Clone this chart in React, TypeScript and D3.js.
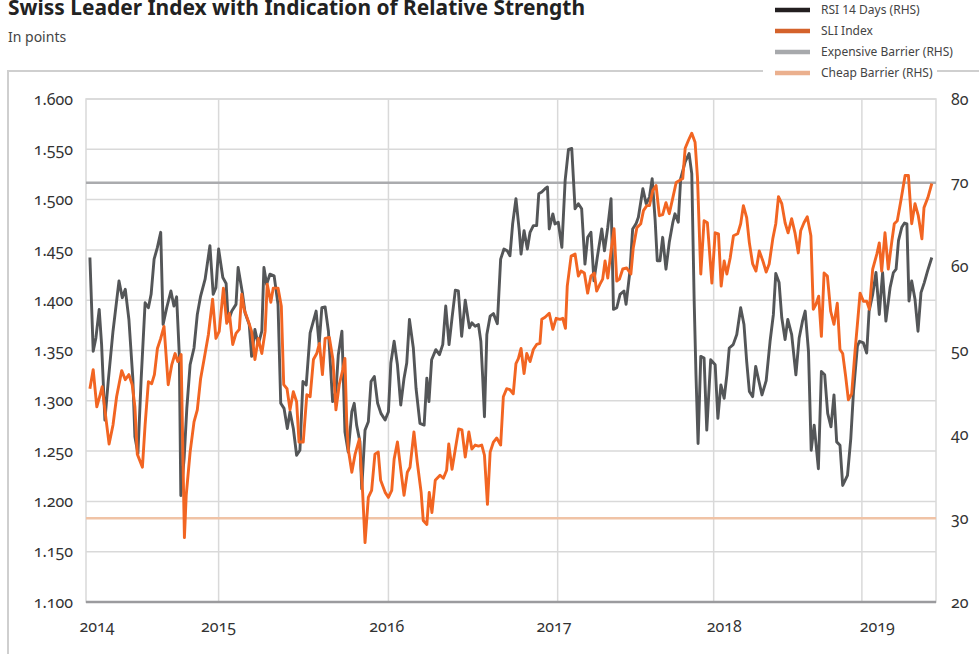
import React, { useEffect, useRef } from "react";
import * as d3 from "d3";

// chart data: x = week index since first observation, y = value
const sliIndex: [number, number][] = [
  [1.3, 1312], [2.4, 1331], [3.6, 1294], [4.7, 1306], [5.4, 1314], [6.7, 1281], [7.7, 1257], [9.0, 1276],
  [10.2, 1304], [11.9, 1330], [13.1, 1321], [14.3, 1326], [15.4, 1316], [16.3, 1294], [17.1, 1247], [18.8, 1234],
  [19.7, 1276], [20.8, 1319], [21.9, 1317], [22.8, 1326], [23.8, 1352], [24.9, 1362], [26.0, 1374], [27.4, 1316],
  [28.6, 1336], [29.7, 1347], [30.6, 1339], [31.7, 1346], [32.8, 1164], [33.4, 1206], [34.7, 1249], [36.0, 1279],
  [37.1, 1291], [38.2, 1322], [39.4, 1342], [40.8, 1366], [42.2, 1401], [43.3, 1362], [44.4, 1369], [45.8, 1412],
  [46.9, 1377], [47.8, 1387], [48.9, 1356], [50.0, 1367], [51.1, 1371], [51.9, 1406], [52.7, 1391], [54.1, 1379],
  [55.2, 1369], [56.3, 1341], [57.4, 1362], [58.6, 1347], [59.7, 1369], [60.4, 1416], [61.6, 1398], [62.4, 1412],
  [64.0, 1412], [65.1, 1394], [65.9, 1316], [67.0, 1312], [68.0, 1291], [69.1, 1309], [70.2, 1299], [71.0, 1259],
  [72.4, 1259], [73.6, 1306], [74.7, 1304], [75.8, 1341], [76.9, 1347], [77.8, 1357], [78.8, 1326], [79.7, 1362],
  [81.1, 1363], [82.3, 1341], [83.3, 1291], [84.4, 1316], [85.6, 1331], [86.3, 1342], [86.9, 1279], [87.4, 1252],
  [88.6, 1229], [89.7, 1247], [91.1, 1262], [92.2, 1209], [93.0, 1159], [94.1, 1204], [95.2, 1211], [96.3, 1247],
  [97.4, 1249], [98.2, 1221], [99.7, 1209], [100.8, 1204], [101.9, 1211], [102.7, 1242], [103.8, 1259], [104.9, 1232],
  [106.0, 1206], [107.1, 1229], [108.0, 1234], [109.3, 1269], [110.4, 1239], [111.7, 1209], [112.4, 1181], [113.6, 1177],
  [114.4, 1209], [115.3, 1189], [116.4, 1221], [118.0, 1226], [119.1, 1223], [120.2, 1231], [120.9, 1257], [122.0, 1232],
  [123.1, 1252], [124.2, 1272], [125.3, 1271], [126.4, 1244], [127.6, 1269], [128.6, 1252], [129.7, 1256], [130.8, 1255],
  [131.9, 1256], [132.8, 1246], [133.8, 1197], [134.7, 1249], [135.8, 1259], [136.9, 1263], [138.2, 1256], [139.1, 1304],
  [140.2, 1312], [141.3, 1311], [142.4, 1307], [143.3, 1337], [144.1, 1342], [145.0, 1352], [146.0, 1327], [146.9, 1347],
  [148.0, 1339], [149.1, 1351], [150.2, 1356], [151.3, 1357], [151.9, 1381], [153.0, 1383], [154.4, 1387], [155.6, 1371],
  [156.7, 1382], [158.0, 1381], [158.9, 1382], [159.8, 1372], [160.4, 1414], [161.7, 1444], [163.0, 1446], [164.1, 1424],
  [165.0, 1429], [166.1, 1427], [167.2, 1407], [168.3, 1424], [169.4, 1427], [170.2, 1409], [171.3, 1416], [172.2, 1421],
  [173.0, 1439], [173.9, 1422], [175.0, 1449], [176.0, 1471], [176.9, 1419], [177.8, 1421], [178.9, 1431], [180.2, 1432],
  [181.6, 1426], [182.4, 1452], [183.6, 1472], [184.9, 1476], [185.8, 1489], [186.9, 1494], [187.8, 1494], [188.9, 1509],
  [190.0, 1514], [191.1, 1484], [192.2, 1485], [193.3, 1497], [194.4, 1486], [195.6, 1502], [196.7, 1517], [197.8, 1519],
  [198.9, 1521], [199.7, 1551], [200.8, 1559], [201.9, 1566], [203.0, 1557], [203.8, 1522], [204.9, 1426], [206.0, 1479],
  [207.1, 1477], [208.6, 1417], [209.7, 1467], [210.8, 1466], [211.7, 1414], [212.7, 1439], [213.6, 1426], [214.7, 1442],
  [215.8, 1464], [217.2, 1466], [218.2, 1476], [219.1, 1494], [220.2, 1482], [221.1, 1457], [222.2, 1436], [223.3, 1429],
  [224.4, 1449], [225.6, 1439], [226.7, 1428], [227.7, 1436], [228.9, 1461], [229.9, 1476], [230.8, 1503], [231.9, 1496],
  [233.0, 1477], [234.0, 1467], [235.2, 1481], [236.3, 1467], [237.4, 1447], [238.2, 1469], [239.3, 1477], [240.4, 1483],
  [241.6, 1464], [242.4, 1391], [243.3, 1396], [244.2, 1404], [245.1, 1364], [246.0, 1427], [247.1, 1424], [248.2, 1389],
  [249.3, 1376], [250.4, 1397], [251.3, 1351], [252.2, 1347], [253.2, 1324], [254.1, 1301], [255.2, 1307], [256.3, 1349],
  [257.1, 1376], [258.0, 1407], [259.1, 1399], [260.2, 1399], [261.1, 1391], [262.2, 1431], [263.6, 1446], [264.4, 1457],
  [265.2, 1429], [266.3, 1467], [267.4, 1431], [268.6, 1459], [269.4, 1476], [270.4, 1479], [271.6, 1499], [273.0, 1524],
  [274.1, 1524], [275.2, 1476], [276.3, 1496], [277.4, 1484], [278.6, 1461], [279.3, 1492], [280.6, 1502], [281.9, 1516],
];

const rsi14: [number, number][] = [
  [1.3, 61.1], [2.4, 49.9], [3.3, 51.5], [4.4, 54.9], [5.2, 50.7], [6.3, 41.7], [7.4, 46.3], [9.0, 52.3],
  [11.0, 58.3], [12.1, 56.3], [13.1, 57.3], [14.3, 53.7], [15.6, 46.7], [16.3, 39.7], [17.3, 37.7], [18.4, 46.7],
  [19.7, 55.7], [20.8, 55.1], [21.7, 56.7], [22.7, 60.9], [23.8, 62.3], [24.9, 64.1], [25.7, 53.1], [26.9, 55.1],
  [28.3, 57.1], [29.3, 55.3], [30.2, 56.4], [31.1, 49.5], [31.6, 32.7], [32.7, 37.1], [33.6, 43.1], [34.7, 48.3],
  [36.0, 50.3], [37.1, 54.3], [38.2, 56.5], [39.7, 58.5], [41.3, 62.5], [42.4, 56.7], [43.3, 57.5], [44.2, 62.1],
  [45.6, 58.7], [46.7, 58.0], [47.4, 53.5], [48.6, 54.7], [50.0, 55.5], [50.7, 59.9], [52.2, 56.7], [53.0, 54.5],
  [54.4, 53.1], [55.2, 49.3], [56.3, 52.5], [57.4, 50.7], [58.6, 52.3], [59.3, 59.9], [60.2, 57.9], [61.3, 59.1],
  [62.7, 58.9], [64.0, 55.5], [64.9, 43.7], [66.0, 43.1], [67.1, 40.7], [68.0, 42.7], [69.1, 40.7], [70.2, 37.5],
  [71.3, 38.1], [72.3, 46.3], [73.4, 45.9], [74.7, 52.1], [76.7, 54.7], [77.7, 50.7], [78.6, 55.1], [79.7, 55.2],
  [80.8, 52.3], [82.2, 43.9], [83.3, 45.1], [84.1, 49.5], [85.3, 52.3], [86.3, 40.3], [87.4, 37.9], [88.6, 42.7],
  [89.4, 43.7], [90.2, 41.1], [91.3, 39.1], [91.9, 33.5], [93.0, 40.5], [94.1, 41.5], [95.0, 46.3], [96.1, 46.9],
  [97.2, 43.7], [98.3, 42.5], [99.7, 41.7], [100.8, 42.7], [101.6, 48.5], [102.7, 51.1], [103.8, 48.3], [104.9, 43.5],
  [106.0, 46.7], [106.9, 48.5], [107.8, 53.7], [109.1, 50.3], [110.0, 45.5], [111.3, 41.3], [112.7, 41.1], [113.6, 46.7],
  [114.3, 43.9], [115.2, 48.9], [116.6, 50.1], [117.8, 49.5], [118.9, 50.7], [119.9, 55.3], [121.0, 50.7], [122.0, 53.9],
  [123.1, 57.2], [124.1, 57.1], [125.2, 51.7], [126.4, 56.0], [127.8, 52.7], [128.6, 53.3], [129.7, 52.9], [130.8, 53.1],
  [131.6, 51.1], [132.2, 46.9], [132.8, 42.1], [133.6, 51.9], [134.7, 54.1], [135.8, 54.4], [137.1, 53.2], [138.2, 60.9],
  [139.3, 62.1], [140.4, 61.9], [141.3, 61.3], [142.2, 65.1], [143.3, 68.1], [144.4, 64.3], [145.0, 61.5], [146.0, 64.3],
  [147.1, 62.1], [148.0, 64.1], [149.1, 64.9], [150.2, 64.9], [150.9, 68.7], [151.9, 68.9], [153.0, 69.3], [153.8, 69.5],
  [154.4, 64.5], [155.6, 66.3], [156.3, 65.1], [157.4, 65.3], [158.6, 62.3], [159.7, 70.3], [160.8, 74.0], [161.9, 74.1],
  [163.0, 66.9], [164.1, 67.5], [165.2, 66.9], [166.3, 60.3], [167.2, 63.5], [168.3, 64.1], [169.3, 58.3], [170.4, 61.1],
  [171.9, 64.5], [172.8, 61.9], [173.9, 64.7], [175.0, 68.1], [175.8, 54.9], [176.9, 55.1], [178.0, 56.7], [179.3, 57.1],
  [180.0, 55.5], [181.3, 59.5], [182.2, 64.5], [183.3, 65.1], [184.1, 65.9], [185.6, 69.3], [186.7, 67.5], [187.8, 68.3],
  [188.7, 70.5], [189.7, 65.5], [190.4, 60.7], [191.3, 60.7], [192.2, 63.5], [193.3, 59.7], [194.4, 62.9], [195.6, 65.3],
  [196.3, 66.3], [197.4, 65.3], [198.2, 70.5], [199.7, 72.5], [201.0, 73.5], [201.9, 71.1], [202.7, 55.9], [203.3, 47.1],
  [204.0, 38.9], [204.9, 49.3], [206.0, 49.1], [206.9, 40.5], [208.2, 48.9], [209.7, 48.3], [210.6, 41.9], [211.6, 45.9],
  [212.7, 44.3], [213.6, 47.1], [214.4, 50.3], [215.7, 50.7], [216.9, 51.9], [218.2, 55.1], [219.3, 53.1], [220.2, 48.7],
  [221.1, 45.1], [222.2, 44.5], [223.2, 48.1], [224.3, 46.3], [225.3, 44.7], [226.7, 46.4], [228.0, 51.1], [229.1, 54.3],
  [229.9, 59.2], [231.0, 58.1], [231.9, 53.9], [233.0, 51.3], [233.9, 53.7], [235.2, 51.9], [236.6, 47.1], [237.7, 51.5],
  [238.8, 53.5], [239.7, 54.7], [240.8, 49.9], [241.7, 38.1], [242.7, 41.1], [244.1, 35.9], [245.1, 47.5], [246.2, 47.1],
  [247.2, 42.5], [248.3, 40.9], [249.3, 44.7], [250.2, 39.1], [251.3, 38.7], [252.2, 33.9], [253.8, 35.1], [254.9, 39.5],
  [255.8, 45.1], [257.1, 50.5], [257.8, 51.1], [259.1, 50.9], [260.2, 49.7], [261.0, 54.7], [262.2, 56.7], [263.3, 59.3],
  [264.4, 54.3], [265.5, 59.3], [266.6, 53.5], [268.0, 57.5], [269.1, 59.3], [270.0, 59.7], [270.8, 63.1], [271.9, 64.7],
  [272.8, 65.2], [273.6, 65.1], [274.3, 55.9], [275.2, 58.3], [276.3, 56.1], [277.3, 52.3], [278.3, 56.9], [279.4, 58.1],
  [280.5, 59.5], [281.9, 61.1],
];

const expensiveBarrier = 70;
const cheapBarrier = 30;

const yearLabels = ["2014", "2015", "2016", "2017", "2018", "2019"];
const yearGridWeeks = [44.2, 100.8, 157.2, 209.2, 258.6];
const yearLabelWeeks = [3.7, 44.2, 100.2, 156.0, 212.7, 263.7];
const lastWeek = 283.3;

const leftTicks = [1100, 1150, 1200, 1250, 1300, 1350, 1400, 1450, 1500, 1550, 1600];
const rightTicks = [20, 30, 40, 50, 60, 70, 80];

const legendItems = [
  { label: "RSI 14 Days (RHS)", color: "#231f20" },
  { label: "SLI Index", color: "#d4622b" },
  { label: "Expensive Barrier (RHS)", color: "#a7a9ac" },
  { label: "Cheap Barrier (RHS)", color: "#ebb08e" },
];

const W = 979, H = 654;
const plot = { left: 86, right: 936, top: 99, bottom: 602 };
const font = "'Noto Sans', sans-serif";

const fmt = d3.formatLocale({ decimal: ",", thousands: ".", grouping: [3], currency: ["", ""] }).format(",");

export default function App() {
  const ref = useRef<SVGSVGElement>(null);

  useEffect(() => {
    const svg = d3.select(ref.current);
    svg.selectAll("*").remove();

    const x = d3.scaleLinear().domain([0, lastWeek]).range([plot.left, plot.right]);
    const yL = d3.scaleLinear().domain([1100, 1600]).range([plot.bottom, plot.top]);
    const yR = d3.scaleLinear().domain([20, 80]).range([plot.bottom, plot.top]);

    // outer frame, broken by the legend
    svg.append("path")
      .attr("d", `M8,${H} V71 H763 M937,71 H${W}`)
      .attr("fill", "none")
      .attr("stroke", "#cfcfcf")
      .attr("stroke-width", 2);

    // title + subtitle (title sits partly above the page top, as in the source)
    svg.append("text")
      .attr("x", 8).attr("y", 15)
      .attr("textLength", 577).attr("lengthAdjust", "spacingAndGlyphs")
      .style("font", `bold 21px ${font}`)
      .attr("fill", "#222")
      .text("Swiss Leader Index with Indication of Relative Strength");

    svg.append("text")
      .attr("x", 8).attr("y", 42)
      .style("font", `14px ${font}`)
      .attr("fill", "#444")
      .text("In points");

    // legend
    const lg = svg.append("g");
    legendItems.forEach((d, i) => {
      const cy = 10 + i * 21;
      lg.append("line")
        .attr("x1", 775).attr("x2", 810).attr("y1", cy).attr("y2", cy)
        .attr("stroke", d.color).attr("stroke-width", 4.5);
      lg.append("text")
        .attr("x", 821).attr("y", cy).attr("dy", "0.35em")
        .style("font", `12px ${font}`)
        .attr("fill", "#444")
        .text(d.label);
    });

    // gridlines
    svg.append("g").selectAll("line").data(leftTicks).join("line")
      .attr("x1", plot.left).attr("x2", plot.right)
      .attr("y1", d => yL(d)).attr("y2", d => yL(d))
      .attr("stroke", "#d9d9d9").attr("stroke-width", 1.5);

    svg.append("g").selectAll("line").data(yearGridWeeks).join("line")
      .attr("x1", d => x(d)).attr("x2", d => x(d))
      .attr("y1", plot.top).attr("y2", plot.bottom)
      .attr("stroke", "#d9d9d9").attr("stroke-width", 1.5);

    svg.append("rect")
      .attr("x", plot.left).attr("y", plot.top)
      .attr("width", plot.right - plot.left).attr("height", plot.bottom - plot.top)
      .attr("fill", "none").attr("stroke", "#d9d9d9").attr("stroke-width", 1.5);

    // bottom axis line
    svg.append("line")
      .attr("x1", plot.left).attr("x2", plot.right)
      .attr("y1", plot.bottom).attr("y2", plot.bottom)
      .attr("stroke", "#9b9b9e").attr("stroke-width", 2.5);

    // axis labels
    svg.append("g").selectAll("text").data(leftTicks).join("text")
      .attr("x", 73).attr("y", d => yL(d)).attr("dy", "0.35em")
      .attr("text-anchor", "end")
      .style("font", `16px ${font}`)
      .style("font-variant-numeric", "oldstyle-nums")
      .attr("fill", "#333")
      .text(d => fmt(d));

    svg.append("g").selectAll("text").data(rightTicks).join("text")
      .attr("x", 951).attr("y", d => yR(d)).attr("dy", "0.35em")
      .style("font", `16px ${font}`)
      .style("font-variant-numeric", "oldstyle-nums")
      .attr("fill", "#333")
      .text(d => d);

    svg.append("g").selectAll("text").data(yearLabels).join("text")
      .attr("x", (d, i) => x(yearLabelWeeks[i])).attr("y", 632)
      .attr("text-anchor", "middle")
      .style("font", `16px ${font}`)
      .style("font-variant-numeric", "oldstyle-nums")
      .attr("fill", "#333")
      .text(d => d);

    // barriers (RHS)
    svg.append("line")
      .attr("x1", plot.left).attr("x2", plot.right)
      .attr("y1", yR(expensiveBarrier)).attr("y2", yR(expensiveBarrier))
      .attr("stroke", "#aaabae").attr("stroke-width", 2.5);

    svg.append("line")
      .attr("x1", plot.left).attr("x2", plot.right)
      .attr("y1", yR(cheapBarrier)).attr("y2", yR(cheapBarrier))
      .attr("stroke", "#f0c3a6").attr("stroke-width", 2.5);

    // series
    svg.append("path")
      .datum(rsi14)
      .attr("fill", "none")
      .attr("stroke", "#545658")
      .attr("stroke-width", 2.9)
      .attr("stroke-linejoin", "round")
      .attr("d", d3.line<[number, number]>().x(d => x(d[0])).y(d => yR(d[1])));

    svg.append("path")
      .datum(sliIndex)
      .attr("fill", "none")
      .attr("stroke", "#f26522")
      .attr("stroke-width", 2.9)
      .attr("stroke-linejoin", "round")
      .attr("d", d3.line<[number, number]>().x(d => x(d[0])).y(d => yL(d[1])));
  }, []);

  return (
    <svg ref={ref} width={W} height={H}
      style={{ position: "absolute", left: 0, top: 0, background: "#fff" }} />
  );
}
